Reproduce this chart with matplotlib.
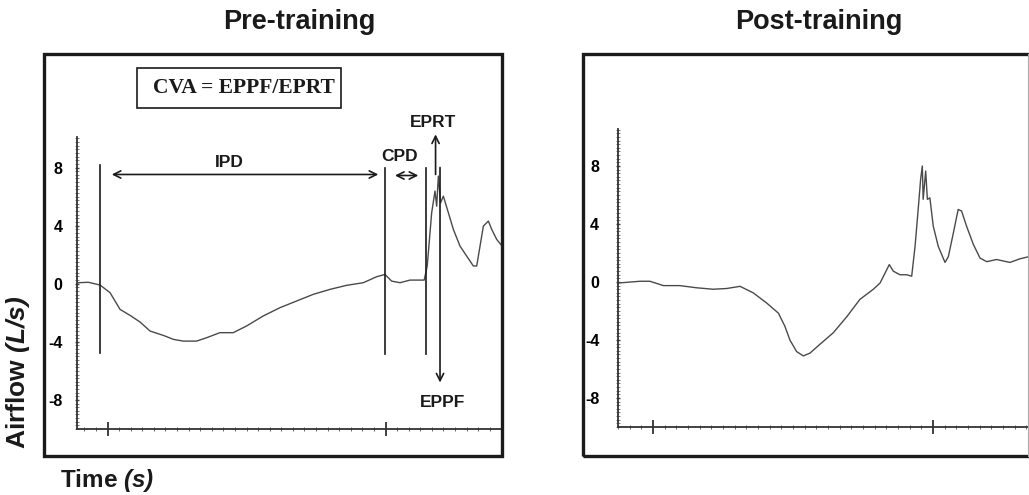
import matplotlib
matplotlib.use('Agg')
import matplotlib.pyplot as plt
from matplotlib.patches import Rectangle
from matplotlib.ticker import MultipleLocator
import numpy as np

plt.rcParams['font.family'] = ['Liberation Sans', 'DejaVu Sans']
plt.rcParams['mathtext.fontset'] = 'custom'
plt.rcParams['mathtext.bf'] = 'Liberation Sans:bold'
plt.rcParams['mathtext.bfit'] = 'Liberation Sans:bold:italic'
plt.rcParams['mathtext.it'] = 'Liberation Sans:italic'
plt.rcParams['mathtext.rm'] = 'Liberation Sans'

# ---------------- data ----------------
pre_time = [0.005, 0.041, 0.083, 0.119, 0.155, 0.191, 0.227, 0.263, 0.311, 0.347,
            0.382, 0.430, 0.466, 0.514, 0.562, 0.610, 0.670, 0.730, 0.790, 0.850,
            0.910, 0.970, 1.030, 1.078, 1.108, 1.132, 1.162, 1.198, 1.249, 1.260,
            1.276, 1.288, 1.294, 1.300, 1.308, 1.318, 1.336, 1.354, 1.378, 1.402,
            1.426, 1.438, 1.462, 1.480, 1.492, 1.510, 1.529]
pre_flow = [0.07, 0.10, -0.09, -0.62, -1.77, -2.18, -2.64, -3.26, -3.56, -3.83,
            -3.95, -3.95, -3.72, -3.37, -3.37, -2.91, -2.22, -1.65, -1.19, -0.73,
            -0.39, -0.11, 0.07, 0.48, 0.64, 0.18, 0.07, 0.25, 0.25, 1.22,
            4.89, 6.38, 5.34, 7.41, 5.57, 6.03, 4.89, 3.74, 2.59, 1.90,
            1.22, 1.22, 3.97, 4.31, 3.74, 3.05, 2.60]

post_time = [0.001, 0.079, 0.114, 0.162, 0.221, 0.281, 0.340, 0.388, 0.436, 0.483,
             0.531, 0.573, 0.596, 0.614, 0.638, 0.662, 0.686, 0.721, 0.769, 0.817,
             0.864, 0.912, 0.936, 0.960, 0.969, 0.983, 1.007, 1.031, 1.049, 1.061,
             1.073, 1.081, 1.087, 1.090, 1.099, 1.105, 1.114, 1.126, 1.144, 1.168,
             1.180, 1.198, 1.215, 1.227, 1.245, 1.269, 1.293, 1.317, 1.352, 1.400,
             1.436, 1.468]
post_flow = [-0.07, 0.05, 0.05, -0.25, -0.25, -0.40, -0.50, -0.45, -0.30, -0.75,
             -1.45, -2.15, -3.05, -4.00, -4.80, -5.10, -4.90, -4.30, -3.50, -2.40,
             -1.20, -0.50, -0.07, 0.85, 1.20, 0.75, 0.50, 0.50, 0.40, 2.45,
             5.20, 7.10, 8.00, 5.70, 7.65, 5.70, 5.80, 3.85, 2.45, 1.35,
             1.75, 3.40, 5.00, 4.90, 3.85, 2.60, 1.65, 1.40, 1.55, 1.35,
             1.60, 1.75]

y_ticks = [-8, -4, 0, 4, 8]
pre_xmajor = [0.11, 1.11]
post_xmajor = [0.125, 1.125]

# phase markers (pre-training)
marker_times = [0.083, 1.108, 1.255]
marker_top = [8.2, 8.0, 8.0]
marker_bottom = [-4.75, -4.86, -4.86]

W, H = 1029, 495
fig = plt.figure(figsize=(W / 100, H / 100), dpi=100)


def fx(x):
    return x / W


def fy(y):
    return 1 - y / H


def add_inner(l, r, t, b):
    return fig.add_axes([fx(l), fy(b), fx(r) - fx(l), fy(t) - fy(b)])


def box(l, r, t, b, lw, ec='#1a1a1a'):
    rect = Rectangle((fx(l), fy(b)), fx(r) - fx(l), fy(t) - fy(b),
                     transform=fig.transFigure, fill=False, lw=lw, ec=ec)
    fig.add_artist(rect)


LINE = '#4a4a4a'
INK = '#1a1a1a'


def style(ax, xlim, ylim, xmajor, ypad):
    ax.set_xlim(*xlim)
    ax.set_ylim(*ylim)
    ax.patch.set_visible(False)
    for s in ['top', 'right']:
        ax.spines[s].set_visible(False)
    for s in ['left', 'bottom']:
        ax.spines[s].set_linewidth(1.3)
        ax.spines[s].set_color('#333333')
    ax.set_yticks(y_ticks)
    ax.set_yticklabels([str(v) for v in y_ticks], fontsize=11.5, fontweight='bold')
    ax.yaxis.set_minor_locator(MultipleLocator(0.25))
    ax.tick_params(axis='y', which='major', length=3, direction='inout', pad=ypad,
                   width=1.0, color='#444444')
    ax.tick_params(axis='y', which='minor', length=2.5, direction='inout',
                   width=0.6, color='#666666')
    step = 1 / 24
    start = xmajor[0] - step * np.floor(xmajor[0] / step)
    ax.set_xticks(xmajor)
    ax.set_xticklabels([])
    ax.set_xticks(np.arange(start, xlim[1], step), minor=True)
    ax.tick_params(axis='x', which='major', length=10, direction='inout', width=1.3,
                   color='#333333')
    ax.tick_params(axis='x', which='minor', length=3.5, direction='inout', width=0.7,
                   color='#666666')


# ---------------- frames ----------------
box(44, 502, 54, 456, 2.4)
box(583, 1040, 54, 456, 2.4)
fig.add_artist(plt.Line2D([fx(1027.5), fx(1027.5)], [fy(456), fy(54)],
                          transform=fig.transFigure, color='#aaaaaa', lw=0.8))

# ---------------- left panel ----------------
axL = add_inner(77, 502, 137, 429)
style(axL, (0, 1.529), (-10, 10.1), pre_xmajor, 9)
axL.plot(pre_time, pre_flow, color=LINE, lw=1.0)

for t, top, bot in zip(marker_times, marker_top, marker_bottom):
    axL.plot([t, t], [bot, top], color=INK, lw=1.2, clip_on=False)

arrow = dict(arrowstyle='<->', lw=1.2, color=INK, mutation_scale=13, shrinkA=0, shrinkB=0)
axL.annotate('', xy=(1.084, 7.52), xytext=(0.125, 7.52), arrowprops=arrow,
             annotation_clip=False)
axL.annotate('', xy=(1.228, 7.45), xytext=(1.144, 7.45), arrowprops=arrow,
             annotation_clip=False)
one = dict(arrowstyle='->', lw=1.2, color=INK, mutation_scale=13, shrinkA=0, shrinkB=0)
axL.annotate('', xy=(1.290, 10.28), xytext=(1.290, 7.52), arrowprops=one,
             annotation_clip=False)
axL.annotate('', xy=(1.306, -6.8), xytext=(1.306, 8.0), arrowprops=one,
             annotation_clip=False)

lab = dict(ha='center', va='center', fontsize=12.5, fontweight='bold', color=INK,
           clip_on=False)
axL.text(0.547, 8.33, 'IPD', **lab)
axL.text(1.162, 8.78, 'CPD', **lab)
axL.text(1.281, 11.1, 'EPRT', **lab)
axL.text(1.316, -8.2, 'EPPF', **lab)

# CVA box
box(137, 341, 68, 108, 1.2)
fig.text(fx(244), fy(88), 'CVA = EPPF/EPRT', ha='center', va='center',
         family=['Liberation Serif', 'DejaVu Serif'], fontweight='bold', fontsize=15.5,
         color=INK)

# ---------------- right panel ----------------
axR = add_inner(618, 1029, 129, 427)
style(axR, (0, 1.468), (-10, 10.55), post_xmajor, 12)
axR.plot(post_time, post_flow, color=LINE, lw=1.0)

# ---------------- titles and labels ----------------
fig.text(fx(299), fy(22), 'Pre-training', ha='center', va='center', fontsize=19.5,
         fontweight='bold', color=INK)
fig.text(fx(819), fy(22), 'Post-training', ha='center', va='center', fontsize=19.5,
         fontweight='bold', color=INK)
fig.text(fx(18), fy(372), r'Airflow $\mathbfit{(L/s)}$', rotation=90, ha='center',
         va='center', fontsize=19, fontweight='bold', color=INK)
fig.text(fx(60), fy(480), r'Time $\mathbfit{(s)}$', ha='left', va='center',
         fontsize=17.5, fontweight='bold', color=INK)

fig.savefig('out.png', dpi=100)
